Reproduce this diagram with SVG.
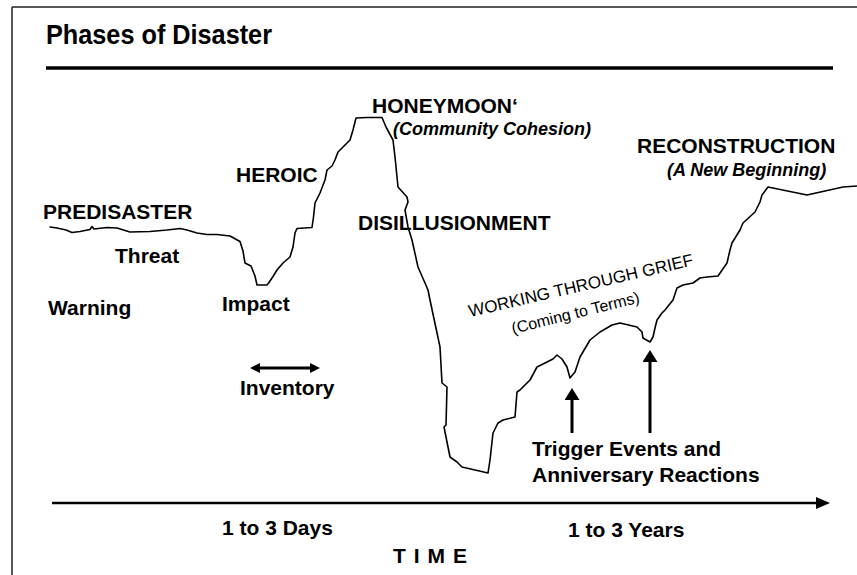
<svg xmlns="http://www.w3.org/2000/svg" width="857" height="575" viewBox="0 0 857 575">
<style>
.lbl{font-family:"Liberation Sans",Arial,Helvetica,sans-serif;font-weight:bold;font-size:21px;fill:#000}
.ttl{font-family:"Liberation Sans",Arial,Helvetica,sans-serif;font-weight:bold;font-size:28px;fill:#000}
.sub{font-family:"Liberation Sans",Arial,Helvetica,sans-serif;font-weight:bold;font-style:italic;font-size:18px;fill:#000}
.reg{font-family:"Liberation Sans",Arial,Helvetica,sans-serif;font-size:17px;fill:#000}
.reg2{font-family:"Liberation Sans",Arial,Helvetica,sans-serif;font-size:16px;fill:#000}
.frame{stroke:#222;stroke-width:1.5;fill:none}
.curve{fill:none;stroke:#000;stroke-width:1.6;stroke-linejoin:round;stroke-linecap:round}
.arr{stroke:#000;fill:none}
</style>
<defs>
<marker id="headL" viewBox="0 0 14 12" markerWidth="14" markerHeight="12" refX="4" refY="6" orient="auto" markerUnits="userSpaceOnUse"><path d="M0,0 L14,6 L0,12 z" fill="#000"/></marker>
<marker id="headM" viewBox="0 0 12 15" markerWidth="12" markerHeight="15" refX="3" refY="7.5" orient="auto" markerUnits="userSpaceOnUse"><path d="M0,0 L12,7.5 L0,15 z" fill="#000"/></marker>
<marker id="headS" viewBox="0 0 10 10" markerWidth="10" markerHeight="10" refX="3" refY="5" orient="auto-start-reverse" markerUnits="userSpaceOnUse"><path d="M0,0 L10,5 L0,10 z" fill="#000"/></marker>
</defs>
<rect width="857" height="575" fill="#fff"/>
<g id="frame">
<line class="frame" x1="12" y1="7" x2="857" y2="7"/>
<line class="frame" x1="12" y1="7" x2="12" y2="575"/>
</g>
<g id="title">
<text class="ttl" x="46" y="44" textLength="226" lengthAdjust="spacingAndGlyphs">Phases of Disaster</text>
<line x1="46" y1="68" x2="833" y2="68" stroke="#000" stroke-width="3.5"/>
</g>
<g id="curve">
<path class="curve" d="M50,227 L57,228 L66,230 L72,232.5 L80,231.5 L90,229.5 L92,226.5 L94,229 L107,227.5 L117,228 L130,232 L150,231.5 L167,230 L180,228.5 L187,230 L197,233 L207,234.5 L217,234.5 L230,236 L240,241.5 L243,251 L245,263 L251,266 L255,276 L257,285 L267,285 L269,282.5 L273,276.5 L277,270 L283,263 L290,257 L293,247 L295,233 L297,228.5 L312,227.5 L313.5,217 L315,203 L320,193 L325,180 L327,170 L332,166 L335,160 L338,152 L343,147 L350,140 L353,130 L356,118 L367,117.5 L382,117.5 L386,127 L393,140 L395,157 L398,187 L407,197 L408,202 L405,210 L408,227 L412,240 L418,267 L425,283 L428,290 L430,300 L440,347 L442,383 L447,387 L446,425 L444,427 L450,457 L457,462 L462,467 L488,473 L490,460 L493,433 L498,423 L503,420 L515,417 L517,392 L520,390 L530,380 L537,367 L553,359 L557,355 L562,359 L567,367 L570,378 L575,372 L580,357 L590,340 L600,332 L612,325 L620,323 L637,327 L642,332 L643,338 L650,342 L653,337 L655,328 L657,320 L662,313 L665,310 L673,300 L677,288 L683,285 L693,283 L700,278 L707,277 L718,276 L727,263 L730,250 L732,243 L740,230 L743,223 L755,212 L760,202 L762,195 L768,187 L807,195 L825,191 L843,187 L857,186"/>
</g>
<g id="connectors">
<line class="arr" x1="52" y1="503" x2="820" y2="503" stroke-width="2.5" marker-end="url(#headL)"/>
<line class="arr" x1="572" y1="433" x2="572" y2="397" stroke-width="3" marker-end="url(#headM)"/>
<line class="arr" x1="650" y1="433" x2="650" y2="359" stroke-width="3" marker-end="url(#headM)"/>
<line class="arr" x1="257" y1="368" x2="313" y2="368" stroke-width="3" marker-start="url(#headS)" marker-end="url(#headS)"/>
</g>
<g id="predisaster"><text class="lbl" x="43" y="219">PREDISASTER</text></g>
<g id="threat"><text class="lbl" x="115" y="263">Threat</text></g>
<g id="warning"><text class="lbl" x="48" y="315">Warning</text></g>
<g id="impact"><text class="lbl" x="222" y="311">Impact</text></g>
<g id="heroic"><text class="lbl" x="236" y="182">HEROIC</text></g>
<g id="honeymoon">
<text class="lbl" x="372" y="113">HONEYMOON‘</text>
<text class="sub" x="393" y="135">(Community Cohesion)</text>
</g>
<g id="disillusionment"><text class="lbl" x="358" y="230">DISILLUSIONMENT</text></g>
<g id="reconstruction">
<text class="lbl" x="637" y="153">RECONSTRUCTION</text>
<text class="sub" x="667" y="176">(A New Beginning)</text>
</g>
<g id="grief">
<text class="reg" transform="translate(470,317) rotate(-13)">WORKING THROUGH GRIEF</text>
<text class="reg2" transform="translate(513,334) rotate(-14)">(Coming to Terms)</text>
</g>
<g id="inventory"><text class="lbl" x="240" y="395">Inventory</text></g>
<g id="trigger">
<text class="lbl" x="532" y="456">Trigger Events and</text>
<text class="lbl" x="532" y="482">Anniversary Reactions</text>
</g>
<g id="days"><text class="lbl" x="222" y="535">1 to 3 Days</text></g>
<g id="years"><text class="lbl" x="568" y="537">1 to 3 Years</text></g>
<g id="time"><text class="lbl" x="393" y="563" textLength="74">T I M E</text></g>
</svg>
